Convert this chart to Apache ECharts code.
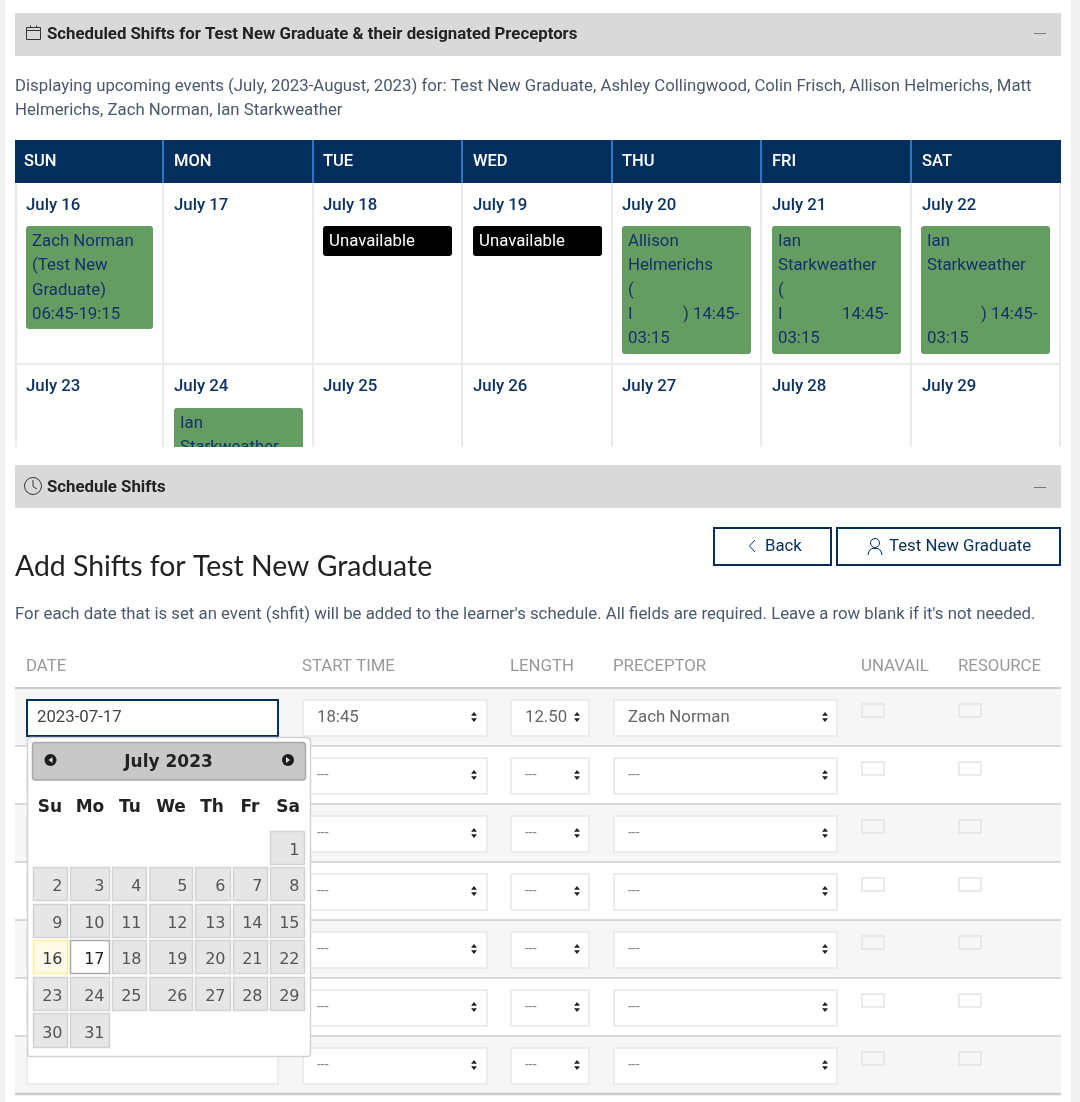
<!DOCTYPE html>
<html>
<head>
<meta charset="utf-8">
<title>Add Shifts</title>
<script src="https://cdn.jsdelivr.net/npm/echarts@6/dist/echarts.min.js"></script>
<style>
  html, body { margin: 0; padding: 0; background: #fff; }
  #chart { width: 1080px; height: 1102px; }
</style>
</head>
<body>
<div id="chart"></div>
<script>
const panelTitles = ['Scheduled Shifts for Test New Graduate & their designated Preceptors', 'Schedule Shifts'];
const introLines = [
  'Displaying upcoming events (July, 2023-August, 2023) for: Test New Graduate, Ashley Collingwood, Colin Frisch, Allison Helmerichs, Matt',
  'Helmerichs, Zach Norman, Ian Starkweather'
];
const weekdays = ['SUN', 'MON', 'TUE', 'WED', 'THU', 'FRI', 'SAT'];
const weekOneDates = ['July 16', 'July 17', 'July 18', 'July 19', 'July 20', 'July 21', 'July 22'];
const weekTwoDates = ['July 23', 'July 24', 'July 25', 'July 26', 'July 27', 'July 28', 'July 29'];
const zachShift = ['Zach Norman', '(Test New', 'Graduate)', '06:45-19:15'];
const allisonShift = ['Allison', 'Helmerichs', '(', 'I', '03:15'];
const ianShift = ['Ian', 'Starkweather', '(', 'I', '03:15'];
const ianShiftSat = ['Ian', 'Starkweather', '', '', '03:15'];
const ianShiftNextWeek = ['Ian', 'Starkweather'];
const unavailableLabel = 'Unavailable';
const formHeading = 'Add Shifts for Test New Graduate';
const formHelp = "For each date that is set an event (shfit) will be added to the learner's schedule. All fields are required. Leave a row blank if it's not needed.";
const formColumns = ['DATE', 'START TIME', 'LENGTH', 'PRECEPTOR', 'UNAVAIL', 'RESOURCE'];
const rowDates = ['2023-07-17', '', '', '', '', '', ''];
const rowStarts = ['18:45', '---', '---', '---', '---', '---', '---'];
const rowLengths = ['12.50', '---', '---', '---', '---', '---', '---'];
const rowPreceptors = ['Zach Norman', '---', '---', '---', '---', '---', '---'];
const pickerTitle = 'July 2023';
const pickerWeekdays = ['Su', 'Mo', 'Tu', 'We', 'Th', 'Fr', 'Sa'];
const pickerWeeks = [
  [null, null, null, null, null, null, 1],
  [2, 3, 4, 5, 6, 7, 8],
  [9, 10, 11, 12, 13, 14, 15],
  [16, 17, 18, 19, 20, 21, 22],
  [23, 24, 25, 26, 27, 28, 29],
  [30, 31, null, null, null, null, null]
];
const todayDay = 16;
const selectedDay = 17;

const NAVY = '#042e5c';
const INK = '#12336a';
const GREEN = '#659c61';
const BODY = '#4b586c';
const SANS = 'Roboto, sans-serif';
const VERDANA = '"DejaVu Sans", sans-serif';
const BASE = '16.8px ' + SANS;

const elements = [];
function add(el) {
  el.z = 10 + elements.length;
  el.silent = true;
  elements.push(el);
}
function box(x0, y0, x1, y1, fill, stroke, lw, r) {
  add({
    type: 'rect',
    shape: { x: x0, y: y0, width: x1 - x0, height: y1 - y0, r: r || 0 },
    style: { fill: fill || 'transparent', stroke: stroke || null, lineWidth: lw || 0 }
  });
}
function text(x, y, str, font, fill, align) {
  add({
    type: 'text',
    style: { x: x, y: y + 1, text: str, font: font, fill: fill, align: align || 'left', verticalAlign: 'middle' }
  });
}
function seg(x0, y0, x1, y1, stroke, lw) {
  add({ type: 'line', shape: { x1: x0, y1: y0, x2: x1, y2: y1 }, style: { stroke: stroke, lineWidth: lw || 1 } });
}
function poly(points, fill) {
  add({ type: 'polygon', shape: { points: points }, style: { fill: fill } });
}
function selectArrows(cx, cy) {
  poly([[cx - 3, cy - 1.2], [cx + 3, cy - 1.2], [cx, cy - 5]], '#222');
  poly([[cx - 3, cy + 1.2], [cx + 3, cy + 1.2], [cx, cy + 5]], '#222');
}

// page gutters
box(0, 0, 5, 1102, '#f1f1f1');
box(1071, 0, 1080, 1102, '#f1f1f1');

// ---- scheduled shifts panel ----
box(15, 13, 1061, 56, '#d9d9d9');
box(26.5, 27.5, 40.5, 39.5, null, '#333', 1);
seg(26, 30.5, 41, 30.5, '#333', 1);
seg(30.5, 25.5, 30.5, 28, '#333', 1);
seg(36.5, 25.5, 36.5, 28, '#333', 1);
text(47, 33.5, panelTitles[0], '700 16.8px ' + SANS, '#222');
seg(1034, 33.5, 1046, 33.5, '#777', 1);

text(15, 85.5, introLines[0], BASE, BODY);
text(15, 109.5, introLines[1], BASE, BODY);

const colEdges = [15, 163, 313, 462, 612, 761, 911, 1061];
const colText = [26, 174, 323, 473, 622, 772, 922];

box(15, 140, 1061, 183, NAVY);
weekdays.forEach(function (d, i) {
  if (i > 0) seg(colEdges[i], 140, colEdges[i], 183, '#2f77c5', 2);
  text(i === 0 ? 24 : colText[i], 161, d, '500 16.5px ' + SANS, '#fff');
});

// grid
colEdges.forEach(function (x, i) {
  const gx = i === 0 ? 16 : (i === 7 ? 1060 : x);
  seg(gx, 183, gx, 447, '#e9ebec', 2);
});
seg(15, 364, 1061, 364, '#e9ebec', 2);

weekOneDates.forEach(function (d, i) { text(colText[i], 204.5, d, '500 16.8px ' + SANS, '#0d3263'); });
weekTwoDates.forEach(function (d, i) { text(colText[i], 385.5, d, '500 16.8px ' + SANS, '#0d3263'); });

function shiftBox(x0, x1, y0, y1, lines) {
  box(x0, y0, x1, y1, GREEN, null, 0, 3);
  lines.forEach(function (line, i) {
    if (line) text(x0 + 6, y0 + 15 + i * 24.3, line, BASE, INK);
  });
}
shiftBox(26, 153, 226, 329, zachShift);
shiftBox(622, 751, 226, 354, allisonShift);
shiftBox(772, 901, 226, 354, ianShift);
shiftBox(921, 1050, 226, 354, ianShiftSat);
text(683, 314, ') 14:45-', BASE, INK);
text(842, 314, '14:45-', BASE, INK);
text(981, 314, ') 14:45-', BASE, INK);
shiftBox(174, 303, 408, 470, ianShiftNextWeek);

[323, 473].forEach(function (x) {
  box(x, 226, x + 129, 256, '#000', null, 0, 3);
  text(x + 6, 241, unavailableLabel, BASE, '#fff');
});

// scroll clip of the calendar
box(5, 447, 1071, 465, '#fff');

// ---- schedule shifts panel ----
box(15, 465, 1061, 508, '#d9d9d9');
add({ type: 'arc', shape: { cx: 33, cy: 486, r: 8.5, startAngle: -1.2, endAngle: 5.5 }, style: { stroke: '#333', lineWidth: 1, fill: null } });
add({ type: 'polyline', shape: { points: [[33, 480], [33, 486.5], [37, 489]] }, style: { stroke: '#333', lineWidth: 1, fill: null } });
text(47, 486.5, panelTitles[1], '700 16.8px ' + SANS, '#222');
seg(1034, 487.5, 1046, 487.5, '#777', 1);

text(15, 565.5, formHeading, '28.4px Lato, sans-serif', '#222');

box(714, 528, 831, 565, '#fff', NAVY, 2);
add({ type: 'polyline', shape: { points: [[755, 540], [749.5, 546], [755, 552]] }, style: { stroke: NAVY, lineWidth: 1, fill: null } });
text(765, 546, 'Back', BASE, NAVY);
box(837, 528, 1060, 565, '#fff', NAVY, 2);
add({ type: 'circle', shape: { cx: 875, cy: 543, r: 4.5 }, style: { stroke: NAVY, lineWidth: 1, fill: null } });
add({ type: 'polyline', shape: { points: [[868, 555], [869, 551], [872, 548.5], [878, 548.5], [881, 551], [882, 555]] }, style: { stroke: NAVY, lineWidth: 1, fill: null } });
text(889, 546, 'Test New Graduate', BASE, NAVY);

text(15, 613.5, formHelp, BASE, BODY);

const formColX = [26, 302, 510, 613, 861, 958];
formColumns.forEach(function (c, i) { text(formColX[i], 665.5, c, BASE, '#999'); });

// form rows
rowDates.forEach(function (d, i) {
  const top = 688 + i * 58;
  if (i % 2 === 0) box(15, top, 1061, top + 58, '#f6f6f6');
});
seg(15, 688, 1061, 688, '#ccc', 2);
rowDates.forEach(function (d, i) {
  const top = 688 + i * 58;
  seg(15, top + 58, 1061, top + 58, '#ccc', i === 6 ? 2.5 : 1.5);
  const y0 = top + 12;
  const y1 = top + 48;
  const cy = top + 29;
  const textFont = i === 0 ? BASE : '14px ' + SANS;
  const textFill = i === 0 ? '#666' : '#888';
  if (i === 0) {
    box(27, y0, 278, y1, '#fff', NAVY, 2);
    text(37, cy - 0.5, d, BASE, '#444');
  } else {
    box(27, y0, 278, y1, '#fff', '#ececec', 2);
  }
  box(303, y0, 487, y1, '#fff', '#ececec', 2);
  text(317, cy - 0.5, rowStarts[i], textFont, textFill);
  selectArrows(474, cy);
  box(511, y0, 589, y1, '#fff', '#ececec', 2);
  text(525, cy - 0.5, rowLengths[i], textFont, textFill);
  selectArrows(577, cy);
  box(614, y0, 837, y1, '#fff', '#ececec', 2);
  text(628, cy - 0.5, rowPreceptors[i], textFont, textFill);
  selectArrows(825, cy);
  box(862, top + 16, 884, top + 29, null, '#e4e4e4', 1.5);
  box(959, top + 16, 981, top + 29, null, '#e4e4e4', 1.5);
});

// ---- date picker ----
box(27.5, 737.5, 310.5, 1056.5, '#fff', '#d2d2d2', 1.5, 3);
box(32.5, 742.5, 305.5, 780, '#c8c8c8', '#a9a9a9', 1.5, 3);
text(168.5, 762, pickerTitle, '700 17px ' + VERDANA, '#222', 'center');
[50.5, 288].forEach(function (cx, i) {
  add({ type: 'circle', shape: { cx: cx, cy: 760, r: 6 }, style: { fill: '#1c1c1c' } });
  poly(i === 0
    ? [[cx + 2, 757], [cx + 2, 763], [cx - 2, 760]]
    : [[cx - 2, 757], [cx - 2, 763], [cx + 2, 760]], '#ddd');
});
const dayColEdges = [[33, 68], [70, 110], [112, 147], [149.5, 193], [195, 231], [233, 268], [270, 305]];
const dayRowEdges = [[831, 865], [867, 901], [904, 938], [940, 974], [977, 1011], [1013, 1048]];
const weekdayCx = [50, 90, 130, 171, 212, 250, 288];
pickerWeekdays.forEach(function (d, i) { text(weekdayCx[i], 807, d, '700 17px ' + VERDANA, '#222', 'center'); });
pickerWeeks.forEach(function (week, r) {
  week.forEach(function (day, c) {
    if (day === null) return;
    const col = dayColEdges[c];
    const row = dayRowEdges[r];
    let fill = '#e6e6e6', stroke = '#d3d3d3', ink = '#555';
    if (day === todayDay) { fill = '#fffae8'; stroke = '#fcefa1'; ink = '#363636'; }
    if (day === selectedDay) { fill = '#fff'; stroke = '#aaa'; ink = '#212121'; }
    box(col[0] + 0.5, row[0] + 0.5, col[1] - 0.5, row[1] - 0.5, fill, stroke, 1.5);
    text(col[1] - 5.5, (row[0] + row[1]) / 2 + 2, String(day), '16px ' + VERDANA, ink, 'right');
  });
});

const chart = echarts.init(document.getElementById('chart'));
chart.setOption({
  animation: false,
  backgroundColor: '#ffffff',
  graphic: { elements: elements }
});
</script>
</body>
</html>
